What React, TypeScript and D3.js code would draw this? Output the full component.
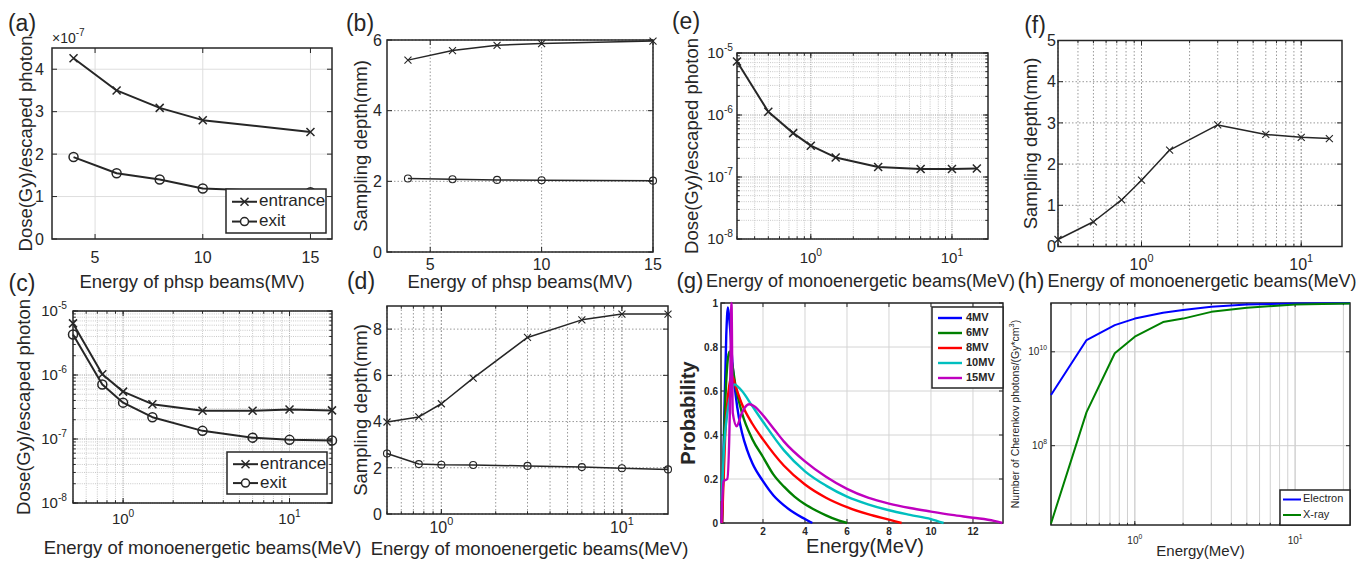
import React from "react";
import * as d3 from "d3";

// ---------------- data ----------------
const phspBeams = [4, 6, 8, 10, 15];
const doseEntrancePhsp = [4.26, 3.5, 3.09, 2.8, 2.52]; // x 1e-7
const doseExitPhsp = [1.93, 1.55, 1.4, 1.19, 1.1];
const depthEntrancePhsp = [5.43, 5.7, 5.85, 5.9, 5.97];
const depthExitPhsp = [2.08, 2.06, 2.04, 2.03, 2.02];

const monoBeamsCD = [0.5, 0.75, 1, 1.5, 3, 6, 10, 18];
const doseEntranceMono = [6.4e-6, 1.03e-6, 5.5e-7, 3.5e-7, 2.77e-7, 2.77e-7, 2.9e-7, 2.8e-7];
const doseExitMono = [4.3e-6, 7.1e-7, 3.7e-7, 2.19e-7, 1.34e-7, 1.05e-7, 9.7e-8, 9.5e-8];
const depthEntranceMono = [3.98, 4.2, 4.77, 5.88, 7.64, 8.4, 8.65, 8.65];
const depthExitMono = [2.62, 2.16, 2.13, 2.12, 2.08, 2.03, 1.98, 1.93];

const monoBeamsEF = [0.3, 0.5, 0.75, 1, 1.5, 3, 6, 10, 15];
const doseMonoE = [7.3e-6, 1.13e-6, 5.1e-7, 3.2e-7, 2.07e-7, 1.45e-7, 1.35e-7, 1.35e-7, 1.37e-7];
const depthMonoF = [0.17, 0.6, 1.13, 1.61, 2.34, 2.95, 2.72, 2.65, 2.62];

const spectrumNames = ["4MV", "6MV", "8MV", "10MV", "15MV"];
const spectrumColors = ["#0000ff", "#008000", "#ff0000", "#00bfbf", "#bf00bf"];
const spec4E = [0.05, 0.15, 0.25, 0.33, 0.42, 0.55, 0.7, 0.85, 1, 1.25, 1.5, 2, 2.5, 3, 3.5, 4, 4.35];
const spec4P = [0, 0.45, 0.85, 0.98, 0.9, 0.72, 0.58, 0.48, 0.41, 0.33, 0.27, 0.19, 0.125, 0.08, 0.045, 0.018, 0];
const spec6E = [0.05, 0.15, 0.3, 0.4, 0.5, 0.7, 1, 1.5, 2, 2.5, 3, 3.5, 4, 4.5, 5, 5.5, 6];
const spec6P = [0, 0.4, 0.72, 0.78, 0.74, 0.62, 0.5, 0.38, 0.3, 0.22, 0.165, 0.12, 0.085, 0.058, 0.035, 0.015, 0];
const spec8E = [0.05, 0.2, 0.4, 0.52, 0.7, 1, 1.5, 2, 3, 4, 5, 6, 7, 8, 8.6];
const spec8P = [0, 0.4, 0.63, 0.67, 0.62, 0.54, 0.45, 0.38, 0.26, 0.175, 0.115, 0.072, 0.04, 0.015, 0];
const spec10E = [0.03, 0.15, 0.3, 0.5, 0.65, 0.8, 1, 1.5, 2, 3, 4, 5, 6, 7, 8, 9, 10, 10.6];
const spec10P = [0.1, 0.35, 0.5, 0.6, 0.63, 0.62, 0.6, 0.53, 0.46, 0.33, 0.235, 0.17, 0.12, 0.085, 0.058, 0.037, 0.018, 0];
const spec15E = [0.02, 0.12, 0.3, 0.42, 0.5, 0.56, 0.75, 0.95, 1.1, 1.35, 1.6, 2, 2.5, 3, 4, 5, 6, 7, 8, 9, 10, 11, 12, 13, 13.4];
const spec15P = [0, 0.19, 0.2, 0.5, 1.0, 0.5, 0.44, 0.49, 0.52, 0.54, 0.53, 0.49, 0.43, 0.37, 0.28, 0.21, 0.155, 0.115, 0.088, 0.068, 0.052, 0.037, 0.024, 0.01, 0];

const cherenkovE = [0.3, 0.5, 0.75, 1, 1.5, 2, 3, 5, 10, 22];
const cherenkovElectron = [1.2e9, 1.78e10, 3.7e10, 5.1e10, 6.8e10, 7.8e10, 9.1e10, 1.02e11, 1.07e11, 1.08e11];
const cherenkovXray = [2.2e6, 5.2e8, 9.3e9, 2.1e10, 4.3e10, 5.1e10, 7.1e10, 8.7e10, 1.02e11, 1.07e11];

// ---------------- styling helpers ----------------
const FONT = "'Liberation Sans', Arial, Helvetica, sans-serif";
const INK = "#262626";
const LAB = 18.5;

function logGrid(lo: number, hi: number) {
  const out: number[] = [];
  for (let e = Math.floor(Math.log10(lo)) - 1; e <= Math.ceil(Math.log10(hi)); e++) {
    for (let k = 1; k < 10; k++) {
      const v = k * Math.pow(10, e);
      if (v >= lo * 0.9999 && v <= hi * 1.0001) out.push(v);
    }
  }
  return out;
}

function Pow({ x, y, exp, size, anchor, weight }: any) {
  return (
    <text x={x} y={y} fontSize={size} textAnchor={anchor} fill={INK} fontWeight={weight}>
      10<tspan dy={-size * 0.5} fontSize={size * 0.68}>{exp}</tspan>
    </text>
  );
}

type AxesProps = {
  l: number; t: number; r: number; b: number;
  xs: any; ys: any;
  xMajor: number[]; yMajor: number[];
  xMinor?: number[]; yMinor?: number[];
  gridX?: boolean; gridY?: boolean; gridMinorX?: boolean; gridMinorY?: boolean;
  gridDash?: string; gridColor?: string; gridMinorColor?: string; gridWidth?: number;
  xLabels?: number[]; yLabels?: number[];
  xFmt?: (v: number) => string; yFmt?: (v: number) => string;
  xPow?: boolean; yPow?: boolean;
  fs: number; fw?: any;
  xLabY: number; yLabX: number; yLabDy?: number;
  frameW?: number; tickLen?: number;
};

function Axes(p: AxesProps) {
  const { l, t, r, b, xs, ys } = p;
  const dash = p.gridDash || "none";
  const gc = p.gridColor || "#d0d0d0";
  const gmc = p.gridMinorColor || gc;
  const gw = p.gridWidth || 1;
  const tl = p.tickLen || 5;
  const els: any[] = [];
  if (p.gridMinorX && p.xMinor)
    p.xMinor.forEach((v, i) => els.push(<line key={"gmx" + i} x1={xs(v)} x2={xs(v)} y1={t} y2={b} stroke={gmc} strokeWidth={gw} strokeDasharray={dash} />));
  if (p.gridMinorY && p.yMinor)
    p.yMinor.forEach((v, i) => els.push(<line key={"gmy" + i} y1={ys(v)} y2={ys(v)} x1={l} x2={r} stroke={gmc} strokeWidth={gw} strokeDasharray={dash} />));
  if (p.gridX)
    p.xMajor.forEach((v, i) => els.push(<line key={"gx" + i} x1={xs(v)} x2={xs(v)} y1={t} y2={b} stroke={gc} strokeWidth={gw} strokeDasharray={dash} />));
  if (p.gridY)
    p.yMajor.forEach((v, i) => els.push(<line key={"gy" + i} y1={ys(v)} y2={ys(v)} x1={l} x2={r} stroke={gc} strokeWidth={gw} strokeDasharray={dash} />));
  const tick = (key: string, x1: number, y1: number, x2: number, y2: number) =>
    els.push(<line key={key} x1={x1} y1={y1} x2={x2} y2={y2} stroke={INK} strokeWidth={1} />);
  p.xMajor.forEach((v, i) => {
    const x = xs(v);
    tick("tbx" + i, x, b, x, b - tl);
    tick("ttx" + i, x, t, x, t + tl);
  });
  p.yMajor.forEach((v, i) => {
    const y = ys(v);
    tick("tly" + i, l, y, l + tl, y);
    tick("try" + i, r, y, r - tl, y);
  });
  (p.xMinor || []).forEach((v, i) => {
    const x = xs(v);
    tick("mbx" + i, x, b, x, b - tl * 0.55);
    tick("mtx" + i, x, t, x, t + tl * 0.55);
  });
  (p.yMinor || []).forEach((v, i) => {
    const y = ys(v);
    tick("mly" + i, l, y, l + tl * 0.55, y);
    tick("mry" + i, r, y, r - tl * 0.55, y);
  });
  els.push(<rect key="frame" x={l} y={t} width={r - l} height={b - t} fill="none" stroke={INK} strokeWidth={p.frameW || 1.5} />);
  const xl = p.xLabels || p.xMajor;
  const yl = p.yLabels || p.yMajor;
  const dy = p.yLabDy !== undefined ? p.yLabDy : p.fs * 0.36;
  xl.forEach((v, i) => {
    if (p.xPow) {
      els.push(<Pow key={"xl" + i} x={xs(v)} y={b + p.xLabY} exp={String(Math.round(Math.log10(v)))} size={p.fs} anchor="middle" weight={p.fw} />);
    } else {
      els.push(<text key={"xl" + i} x={xs(v)} y={b + p.xLabY} fontSize={p.fs} fontWeight={p.fw} textAnchor="middle" fill={INK}>{(p.xFmt || String)(v)}</text>);
    }
  });
  yl.forEach((v, i) => {
    if (p.yPow) {
      els.push(<Pow key={"yl" + i} x={l - p.yLabX} y={ys(v) + dy} exp={String(Math.round(Math.log10(v)))} size={p.fs} anchor="end" weight={p.fw} />);
    } else {
      els.push(<text key={"yl" + i} x={l - p.yLabX} y={ys(v) + dy} fontSize={p.fs} fontWeight={p.fw} textAnchor="end" fill={INK}>{(p.yFmt || String)(v)}</text>);
    }
  });
  return <g>{els}</g>;
}

function Series({ xs, ys, xv, yv, marker, ms, lw, color, curve }: any) {
  const pts = xv.map((x: number, i: number) => [x, yv[i]] as [number, number]);
  const line = d3.line<[number, number]>().x((d) => xs(d[0])).y((d) => ys(d[1]));
  if (curve) line.curve(curve);
  const c = color || INK;
  return (
    <g>
      <path d={line(pts) || ""} fill="none" stroke={c} strokeWidth={lw} strokeLinejoin="round" />
      {marker &&
        pts.map((d: [number, number], i: number) => {
          const x = xs(d[0]);
          const y = ys(d[1]);
          if (marker === "x")
            return <path key={i} d={`M${x - ms},${y - ms}L${x + ms},${y + ms}M${x - ms},${y + ms}L${x + ms},${y - ms}`} stroke={c} strokeWidth={lw * 0.75} />;
          return <circle key={i} cx={x} cy={y} r={ms} fill="none" stroke={c} strokeWidth={lw * 0.75} />;
        })}
    </g>
  );
}

function YLabel({ x, y, text, size, weight }: any) {
  return (
    <text transform={`translate(${x},${y}) rotate(-90)`} textAnchor="middle" dominantBaseline="middle" fontSize={size} fill={INK} fontWeight={weight}>
      {text}
    </text>
  );
}

function Txt({ x, y, text, size, anchor, weight }: any) {
  return (
    <text x={x} y={y} fontSize={size} textAnchor={anchor || "middle"} dominantBaseline="middle" fill={INK} fontWeight={weight}>
      {text}
    </text>
  );
}

function MarkerLegend({ x, y, w, h, lw, ms, fs }: any) {
  const rows = [
    { label: "entrance", marker: "x", cy: y + h * 0.29 },
    { label: "exit", marker: "o", cy: y + h * 0.74 },
  ];
  return (
    <g>
      <rect x={x} y={y} width={w} height={h} fill="#fff" stroke={INK} strokeWidth={1.5} />
      {rows.map((rw, i) => {
        const x1 = x + 6, x2 = x + 31, cx = (x1 + x2) / 2;
        return (
          <g key={i}>
            <line x1={x1} x2={x2} y1={rw.cy} y2={rw.cy} stroke={INK} strokeWidth={lw} />
            {rw.marker === "x" ? (
              <path d={`M${cx - ms},${rw.cy - ms}L${cx + ms},${rw.cy + ms}M${cx - ms},${rw.cy + ms}L${cx + ms},${rw.cy - ms}`} stroke={INK} strokeWidth={lw * 0.75} />
            ) : (
              <circle cx={cx} cy={rw.cy} r={ms} fill="#fff" stroke={INK} strokeWidth={lw * 0.75} />
            )}
            <text x={x2 + 2} y={rw.cy} dominantBaseline="middle" fontSize={fs} fill={INK}>{rw.label}</text>
          </g>
        );
      })}
    </g>
  );
}

// ---------------- panels ----------------
function PanelA() {
  const l = 52, t = 48, r = 332, b = 239;
  const xs = d3.scaleLinear().domain([3, 16]).range([l, r]);
  const ys = d3.scaleLinear().domain([0, 4.5]).range([b, t]);
  return (
    <g>
      <Axes l={l} t={t} r={r} b={b} xs={xs} ys={ys} xMajor={[5, 10, 15]} yMajor={[0, 1, 2, 3, 4]} gridX gridY gridColor="#dedede" fs={16} xLabY={24} yLabX={8} />
      <Series xs={xs} ys={ys} xv={phspBeams} yv={doseEntrancePhsp} marker="x" ms={4} lw={2} />
      <Series xs={xs} ys={ys} xv={phspBeams} yv={doseExitPhsp} marker="o" ms={4.5} lw={2} />
      <MarkerLegend x={226} y={189} w={100} h={44} lw={2} ms={4} fs={17} />
      <text x={l} y={43} fontSize={14} fill={INK}>×10<tspan dy={-7} fontSize={10}>-7</tspan></text>
      <YLabel x={27} y={(t + b) / 2} text="Dose(Gy)/escaped photon" size={LAB} />
      <Txt x={192} y={283} text="Energy of phsp beams(MV)" size={LAB} />
      <Txt x={22} y={25} text="(a)" size={23} />
    </g>
  );
}

function PanelB() {
  const l = 387, t = 40, r = 653, b = 252;
  const xs = d3.scaleLinear().domain([3.06, 15]).range([l, r]);
  const ys = d3.scaleLinear().domain([0, 6]).range([b, t]);
  return (
    <g>
      <Axes l={l} t={t} r={r} b={b} xs={xs} ys={ys} xMajor={[5, 10, 15]} yMajor={[0, 2, 4, 6]} gridX gridY gridDash="1.5,2" gridColor="#9a9a9a" fs={16} xLabY={18} yLabX={5} />
      <Series xs={xs} ys={ys} xv={phspBeams} yv={depthEntrancePhsp} marker="x" ms={3.5} lw={1.5} />
      <Series xs={xs} ys={ys} xv={phspBeams} yv={depthExitPhsp} marker="o" ms={3.5} lw={1.5} />
      <YLabel x={362} y={(t + b) / 2} text="Sampling depth(mm)" size={LAB} />
      <Txt x={(l + r) / 2} y={283} text="Energy of phsp beams(MV)" size={LAB} />
      <Txt x={360} y={25} text="(b)" size={23} />
    </g>
  );
}

function PanelC() {
  const l = 73, t = 311, r = 332, b = 503;
  const xs = d3.scaleLog().domain([0.5, 18]).range([l, r]);
  const ys = d3.scaleLog().domain([1e-8, 1e-5]).range([b, t]);
  return (
    <g>
      <Axes l={l} t={t} r={r} b={b} xs={xs} ys={ys} xMajor={[1, 10]} yMajor={[1e-8, 1e-7, 1e-6, 1e-5]} xMinor={logGrid(0.5, 18)} yMinor={logGrid(1e-8, 1e-5)}
        gridX gridY gridMinorX gridMinorY gridDash="1,1.2" gridColor="#b8b8b8" gridMinorColor="#c8c8c8" fs={15} xLabY={21} yLabX={6} xPow yPow />
      <Series xs={xs} ys={ys} xv={monoBeamsCD} yv={doseEntranceMono} marker="x" ms={4} lw={2} />
      <Series xs={xs} ys={ys} xv={monoBeamsCD} yv={doseExitMono} marker="o" ms={4.5} lw={2} />
      <MarkerLegend x={227} y={452} w={100} h={42} lw={2} ms={4} fs={17} />
      <YLabel x={25} y={(t + b) / 2} text="Dose(Gy)/escaped photon" size={LAB} />
      <Txt x={(l + r) / 2} y={549} text="Energy of monoenergetic beams(MeV)" size={LAB} />
      <Txt x={22} y={285} text="(c)" size={23} />
    </g>
  );
}

function PanelD() {
  const l = 387, t = 306, r = 668, b = 514;
  const xs = d3.scaleLog().domain([0.5, 18]).range([l, r]);
  const ys = d3.scaleLinear().domain([0, 9]).range([b, t]);
  return (
    <g>
      <Axes l={l} t={t} r={r} b={b} xs={xs} ys={ys} xMajor={[1, 10]} yMajor={[0, 2, 4, 6, 8]} xMinor={logGrid(0.5, 18)}
        gridX gridY gridMinorX gridDash="1.5,2" gridColor="#9a9a9a" fs={16} xLabY={19} yLabX={5} xPow />
      <Series xs={xs} ys={ys} xv={monoBeamsCD} yv={depthEntranceMono} marker="x" ms={3.5} lw={1.5} />
      <Series xs={xs} ys={ys} xv={monoBeamsCD} yv={depthExitMono} marker="o" ms={3.5} lw={1.5} />
      <YLabel x={362} y={(t + b) / 2} text="Sampling depth(mm)" size={LAB} />
      <Txt x={(l + r) / 2 + 2} y={550} text="Energy of monoenergetic beams(MeV)" size={LAB} />
      <Txt x={361} y={283} text="(d)" size={23} />
    </g>
  );
}

function PanelE() {
  const l = 737, t = 53, r = 988, b = 239;
  const xs = d3.scaleLog().domain([0.3, 18]).range([l, r]);
  const ys = d3.scaleLog().domain([1e-8, 1e-5]).range([b, t]);
  return (
    <g>
      <Axes l={l} t={t} r={r} b={b} xs={xs} ys={ys} xMajor={[1, 10]} yMajor={[1e-8, 1e-7, 1e-6, 1e-5]} xMinor={logGrid(0.3, 18)} yMinor={logGrid(1e-8, 1e-5)}
        gridX gridY gridMinorX gridMinorY gridDash="1,1.2" gridColor="#b8b8b8" gridMinorColor="#c8c8c8" fs={15} xLabY={24} yLabX={4} xPow yPow />
      <Series xs={xs} ys={ys} xv={monoBeamsEF} yv={doseMonoE} marker="x" ms={4} lw={2} />
      <YLabel x={693} y={(t + b) / 2} text="Dose(Gy)/escaped photon" size={LAB} />
      <Txt x={(l + r) / 2 - 2} y={282} text="Energy of monoenergetic beams(MeV)" size={18} />
      <Txt x={686} y={23} text="(e)" size={23} />
    </g>
  );
}

function PanelF() {
  const l = 1058, t = 40.5, r = 1342, b = 246.5;
  const xs = d3.scaleLog().domain([0.3, 18]).range([l, r]);
  const ys = d3.scaleLinear().domain([0, 5]).range([b, t]);
  return (
    <g>
      <Axes l={l} t={t} r={r} b={b} xs={xs} ys={ys} xMajor={[1, 10]} yMajor={[0, 1, 2, 3, 4, 5]} xMinor={logGrid(0.3, 18)}
        gridX gridY gridMinorX gridDash="1.5,2" gridColor="#9a9a9a" fs={16} xLabY={23} yLabX={2} xPow />
      <Series xs={xs} ys={ys} xv={monoBeamsEF} yv={depthMonoF} marker="x" ms={3.5} lw={1.5} />
      <YLabel x={1032} y={(t + b) / 2} text="Sampling depth(mm)" size={LAB} />
      <Txt x={(l + r) / 2 + 2} y={282} text="Energy of monoenergetic beams(MeV)" size={18} />
      <Txt x={1035} y={27} text="(f)" size={23} />
    </g>
  );
}

function PanelG() {
  const l = 721, t = 303, r = 1003, b = 523;
  const xs = d3.scaleLinear().domain([0, 13.43]).range([l, r]);
  const ys = d3.scaleLinear().domain([0, 1]).range([b, t]);
  const series = [
    [spec4E, spec4P], [spec6E, spec6P], [spec8E, spec8P], [spec10E, spec10P], [spec15E, spec15P],
  ];
  const lx = 932, ly = 307, lw = 71, lh = 81;
  return (
    <g>
      <Axes l={l} t={t} r={r} b={b} xs={xs} ys={ys} xMajor={[2, 4, 6, 8, 10, 12]} yMajor={[0, 0.2, 0.4, 0.6, 0.8, 1]}
        gridX gridY gridColor="#d4d4d4" fs={10} fw="bold" xLabY={12} yLabX={3} yFmt={(v) => String(+v.toFixed(1))} tickLen={4} />
      {series.map((s, i) => (
        <Series key={i} xs={xs} ys={ys} xv={s[0]} yv={s[1]} lw={2.4} color={spectrumColors[i]} curve={d3.curveMonotoneX} />
      ))}
      <rect x={lx} y={ly} width={lw} height={lh} fill="#fff" stroke={INK} strokeWidth={1.5} />
      {spectrumNames.map((n, i) => {
        const cy = ly + 11 + i * 15;
        return (
          <g key={n}>
            <line x1={lx + 6} x2={lx + 30} y1={cy} y2={cy} stroke={spectrumColors[i]} strokeWidth={2.4} />
            <text x={lx + 34} y={cy} dominantBaseline="middle" fontSize={11} fontWeight="bold" fill={INK}>{n}</text>
          </g>
        );
      })}
      <YLabel x={690} y={(t + b) / 2} text="Probability" size={20} weight={600} />
      <Txt x={865} y={548} text="Energy(MeV)" size={20} />
      <Txt x={690} y={282} text="(g)" size={22} />
    </g>
  );
}

function PanelH() {
  const l = 1051, t = 303, r = 1350, b = 525;
  const xs = d3.scaleLog().domain([0.3, 22]).range([l, r]);
  const ys = d3.scaleLog().domain([Math.pow(10, 6.31), Math.pow(10, 11.04)]).range([b, t]);
  const lx = 1280, ly = 490, lw = 70, lh = 35;
  return (
    <g>
      <Axes l={l} t={t} r={r} b={b} xs={xs} ys={ys} xMajor={[1, 10]} yMajor={[1e8, 1e10]} xMinor={logGrid(0.3, 22)}
        gridX gridY gridMinorX gridColor="#d0d0d0" fs={10} xLabY={19} yLabX={4} xPow yPow tickLen={4} />
      <Series xs={xs} ys={ys} xv={cherenkovE} yv={cherenkovElectron} lw={2} color="#0000ff" />
      <Series xs={xs} ys={ys} xv={cherenkovE} yv={cherenkovXray} lw={2} color="#008000" />
      <rect x={lx} y={ly} width={lw} height={lh} fill="#fff" stroke={INK} strokeWidth={1.5} />
      {[["Electron", "#0000ff"], ["X-ray", "#008000"]].map((d, i) => {
        const cy = ly + 9.5 + i * 15.5;
        return (
          <g key={d[0]}>
            <line x1={lx + 3} x2={lx + 21} y1={cy} y2={cy} stroke={d[1]} strokeWidth={2} />
            <text x={lx + 23} y={cy} dominantBaseline="middle" fontSize={11} fill={INK}>{d[0]}</text>
          </g>
        );
      })}
      <text transform={`translate(1016,${(t + b) / 2}) rotate(-90)`} textAnchor="middle" dominantBaseline="middle" fontSize={10.5} fill={INK}>
        Number of Cherenkov photons/(Gy*cm<tspan dy={-4} fontSize={7.5}>3</tspan><tspan dy={4}>)</tspan>
      </text>
      <Txt x={(l + r) / 2} y={552} text="Energy(MeV)" size={15} />
      <Txt x={1031} y={282} text="(h)" size={22} />
    </g>
  );
}

export default function App() {
  return (
    <svg width={1366} height={564} style={{ position: "absolute", left: 0, top: 0, background: "#fff" }} fontFamily={FONT}>
      <rect width={1366} height={564} fill="#fff" />
      <PanelA />
      <PanelB />
      <PanelC />
      <PanelD />
      <PanelE />
      <PanelF />
      <PanelG />
      <PanelH />
    </svg>
  );
}
